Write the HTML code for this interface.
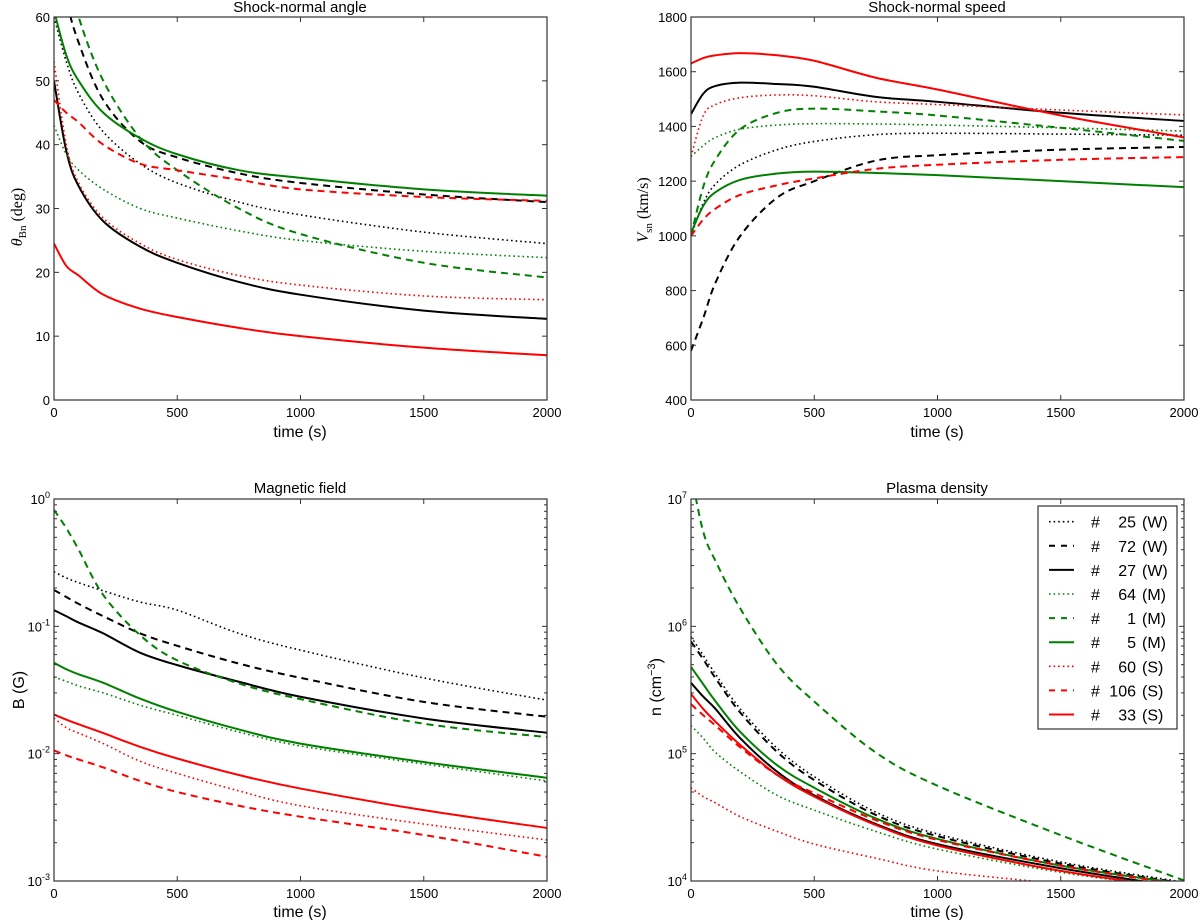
<!DOCTYPE html>
<html><head><meta charset="utf-8">
<style>
html,body{margin:0;padding:0;background:#fff;}
svg{display:block;font-family:"Liberation Sans","DejaVu Sans",sans-serif;}
</style></head>
<body>
<svg id="fig" width="1200" height="920" viewBox="0 0 1200 920" xmlns="http://www.w3.org/2000/svg">
<defs>
<clipPath id="c0"><rect x="54" y="17" width="493" height="383"/></clipPath>
<clipPath id="c1"><rect x="691" y="17" width="493" height="383"/></clipPath>
<clipPath id="c2"><rect x="54" y="499" width="493" height="382"/></clipPath>
<clipPath id="c3"><rect x="691" y="499" width="493" height="382"/></clipPath>
</defs>
<g id="root"></g>
<text x="300" y="12" font-size="15" text-anchor="middle">Shock-normal angle</text>
<text x="937" y="12" font-size="15" text-anchor="middle">Shock-normal speed</text>
<text x="300" y="493" font-size="15" text-anchor="middle">Magnetic field</text>
<text x="937" y="493" font-size="15" text-anchor="middle">Plasma density</text>
<text x="300" y="437" font-size="16" text-anchor="middle">time (s)</text>
<text x="937" y="437" font-size="16" text-anchor="middle">time (s)</text>
<text x="300" y="917" font-size="16" text-anchor="middle">time (s)</text>
<text x="937" y="917" font-size="16" text-anchor="middle">time (s)</text>
<text transform="translate(22,217) rotate(-90)" font-size="16" text-anchor="middle" font-family="Liberation Serif, serif"><tspan font-style="italic">θ</tspan><tspan font-size="11" dy="4">Bn</tspan><tspan dy="-4"> (deg)</tspan></text>
<text transform="translate(648,210) rotate(-90)" font-size="16" text-anchor="middle" font-family="Liberation Serif, serif"><tspan font-style="italic">V</tspan><tspan font-size="11" dy="4">sn</tspan><tspan dy="-4"> (km/s)</tspan></text>
<text transform="translate(24,690) rotate(-90)" font-size="16" text-anchor="middle">B (G)</text>
<text transform="translate(661,687) rotate(-90)" font-size="16" text-anchor="middle">n (cm<tspan font-size="11" dy="-6">−3</tspan><tspan dy="6">)</tspan></text>
</svg>
<script>
const times = [0,50,100,200,350,500,750,1000,1500,2000];
const xTicks = [0,500,1000,1500,2000];
const angleTicks = [0,10,20,30,40,50,60];
const speedTicks = [400,600,800,1000,1200,1400,1600,1800];
const fieldDecades = [-3,-2,-1,0];
const densityDecades = [4,5,6,7];
const seriesNames = ["# 25 (W)","# 72 (W)","# 27 (W)","# 64 (M)","#  1 (M)","#  5 (M)","# 60 (S)","#106 (S)","# 33 (S)"];
const seriesNums = ["25","72","27","64","1","5","60","106","33"];
const seriesCls = ["W","W","W","M","M","M","S","S","S"];
const angle25 = [60,53,48,42,37,34,31,29,26.3,24.5];
const angle72 = [75,63,56,47,40.5,38,35.5,34,32.2,31];
const angle27 = [50,39,33.5,28,24,21.5,18.5,16.5,14,12.7];
const angle64 = [43,38.5,36,33,30,28.5,26.5,25,23.3,22.3];
const angle1 = [80,68,60,50,41,36,30,26,21.5,19.2];
const angle5 = [61,54,50,45,41,38.5,36,34.8,33,32];
const angle60 = [53,40,34,28.5,24.5,22,19.5,18,16.3,15.7];
const angle106 = [47,45,43.5,40,37,36,34.5,33,31.8,31.2];
const angle33 = [24.5,21,19.5,16.5,14.3,13,11.3,10,8.2,7];
const speed25 = [1000,1120,1190,1260,1315,1345,1370,1375,1372,1368];
const speed72 = [580,700,830,1000,1140,1200,1275,1295,1315,1325];
const speed27 = [1445,1520,1548,1560,1555,1545,1508,1490,1450,1420];
const speed64 = [1290,1330,1360,1390,1405,1410,1409,1405,1395,1383];
const speed1 = [1000,1180,1280,1390,1450,1465,1455,1440,1395,1347];
const speed5 = [1010,1110,1160,1205,1228,1235,1230,1222,1200,1178];
const speed60 = [1290,1440,1480,1505,1515,1512,1490,1480,1460,1442];
const speed106 = [1000,1060,1100,1150,1185,1210,1245,1260,1278,1288];
const speed33 = [1630,1650,1660,1668,1660,1640,1578,1535,1440,1360];
const field25 = [0.268,0.24,0.22,0.19,0.155,0.134,0.088,0.065,0.0394,0.0263];
const field72 = [0.193,0.17,0.15,0.12,0.088,0.0703,0.051,0.0394,0.0255,0.0195];
const field27 = [0.134,0.12,0.107,0.088,0.062,0.0496,0.0367,0.028,0.0189,0.0146];
const field64 = [0.040,0.037,0.034,0.030,0.024,0.020,0.0148,0.0115,0.0083,0.0061];
const field1 = [0.82,0.59,0.40,0.176,0.085,0.054,0.0356,0.0268,0.0172,0.0135];
const field5 = [0.0517,0.046,0.042,0.036,0.027,0.0213,0.0155,0.012,0.0086,0.00646];
const field60 = [0.019,0.016,0.0145,0.012,0.0087,0.007,0.0051,0.0039,0.0028,0.0021];
const field106 = [0.0106,0.0097,0.009,0.0078,0.0061,0.005,0.0039,0.0032,0.0023,0.00155];
const field33 = [0.0203,0.0185,0.017,0.0145,0.0113,0.00916,0.0068,0.00532,0.0036,0.00261];
const dens25 = [8.3e5,5.9e5,4.2e5,2.24e5,1.1e5,6.6e4,3.47e4,2.34e4,1.41e4,9.8e3];
const dens72 = [7.6e5,5.5e5,3.9e5,2.1e5,1.03e5,6.2e4,3.3e4,2.25e4,1.37e4,9.6e3];
const dens27 = [3.6e5,2.8e5,2.24e5,1.32e5,7.2e4,4.7e4,2.8e4,1.95e4,1.26e4,8.9e3];
const dens64 = [1.66e5,1.32e5,1.02e5,7.2e4,4.7e4,3.6e4,2.45e4,1.78e4,1.17e4,8.7e3];
const dens1 = [1.58e7,5.5e6,3.24e6,1.38e6,5.0e5,2.57e5,1.02e5,5.6e4,2.29e4,1.01e4];
const dens5 = [4.8e5,3.5e5,2.57e5,1.48e5,8.1e4,5.4e4,3.1e4,2.14e4,1.32e4,9.5e3];
const dens60 = [5.4e4,4.6e4,4.1e4,3.2e4,2.45e4,1.95e4,1.51e4,1.2e4,9.5e3,7.6e3];
const dens106 = [2.45e5,2.0e5,1.66e5,1.12e5,6.8e4,4.9e4,3.0e4,2.1e4,1.32e4,9.3e3];
const dens33 = [2.95e5,2.24e5,1.78e5,1.17e5,6.8e4,4.6e4,2.75e4,1.9e4,1.2e4,8.7e3];

const NS = "http://www.w3.org/2000/svg";
const root = document.getElementById('root');
const COLORS = {black:"#000000", green:"#008000", red:"#ff0000"};
const styleOf = [
  {c:"black",d:"dot"},{c:"black",d:"dash"},{c:"black",d:"solid"},
  {c:"green",d:"dot"},{c:"green",d:"dash"},{c:"green",d:"solid"},
  {c:"red",d:"dot"},{c:"red",d:"dash"},{c:"red",d:"solid"}];
function mk(tag, attrs, parent){
  const e = document.createElementNS(NS, tag);
  for (const k in attrs) e.setAttribute(k, attrs[k]);
  (parent||root).appendChild(e);
  return e;
}
function applyDash(el, d){
  if (d==="dot"){ el.setAttribute('stroke-dasharray','1.6 3'); el.setAttribute('stroke-width','1.6'); }
  else if (d==="dash"){ el.setAttribute('stroke-dasharray','7 5'); el.setAttribute('stroke-width','2'); }
  else el.setAttribute('stroke-width','2');
}
function smoothPath(pts){
  let d = "M"+pts[0][0].toFixed(2)+","+pts[0][1].toFixed(2);
  for (let i=0;i<pts.length-1;i++){
    const p0 = pts[i>0?i-1:i], p1=pts[i], p2=pts[i+1], p3=pts[i+2<pts.length?i+2:i+1];
    const c1x = p1[0]+(p2[0]-p0[0])/6, c1y = p1[1]+(p2[1]-p0[1])/6;
    const c2x = p2[0]-(p3[0]-p1[0])/6, c2y = p2[1]-(p3[1]-p1[1])/6;
    d += " C"+c1x.toFixed(2)+","+c1y.toFixed(2)+" "+c2x.toFixed(2)+","+c2y.toFixed(2)+" "+p2[0].toFixed(2)+","+p2[1].toFixed(2);
  }
  return d;
}
function panel(cfg){
  const {x0,x1,y0,y1,log,ymin,ymax,series,clip,key} = cfg;
  const xs = t => x0 + (t-0)/(2000-0)*(x1-x0);
  const ys = v => {
    if (log){ const lv=Math.log10(v); return y1 - (lv-ymin)/(ymax-ymin)*(y1-y0); }
    return y1 - (v-ymin)/(ymax-ymin)*(y1-y0);
  };
  const g = mk('g',{'clip-path':'url(#'+clip+')'});
  
  
  series.forEach((arr, i)=>{
    const pts = arr.map((v,j)=>[xs(times[j]), ys(v)]);
    const p = mk('path',{d:smoothPath(pts), fill:'none', stroke:COLORS[styleOf[i].c], 'stroke-linecap':'butt'}, g);
    applyDash(p, styleOf[i].d);
    
    
  });
  const fr = mk('rect',{x:x0,y:y0,width:x1-x0,height:y1-y0,fill:'none',stroke:'#333','stroke-width':1.2});
  
  
  xTicks.forEach(t=>{
    const x = xs(t);
    mk('line',{x1:x,x2:x,y1:y1,y2:y1-5,stroke:'#333','stroke-width':1});
    mk('line',{x1:x,x2:x,y1:y0,y2:y0+5,stroke:'#333','stroke-width':1});
    const tx = mk('text',{x:x,y:y1+17,'font-size':13,'text-anchor':'middle'});
    tx.textContent = t;
    
    
  });
  if (!log){
    cfg.ticks.forEach(v=>{
      const y = ys(v);
      mk('line',{x1:x0,x2:x0+5,y1:y,y2:y,stroke:'#333','stroke-width':1});
      mk('line',{x1:x1,x2:x1-5,y1:y,y2:y,stroke:'#333','stroke-width':1});
      const tx = mk('text',{x:x0-4,y:y+5,'font-size':13,'text-anchor':'end'});
      tx.textContent = v;
      
      
    });
  } else {
    cfg.ticks.forEach((e,k)=>{
      const y = ys(Math.pow(10,e));
      mk('line',{x1:x0,x2:x0+5,y1:y,y2:y,stroke:'#333','stroke-width':1});
      mk('line',{x1:x1,x2:x1-5,y1:y,y2:y,stroke:'#333','stroke-width':1});
      const tx = mk('text',{x:x0-4,y:y+5,'font-size':13,'text-anchor':'end'});
      
      
      const a = mk('tspan',{},tx); a.textContent='10';
      const b = mk('tspan',{'font-size':9,dy:-6},tx); b.textContent=String(e);
      if (k<cfg.ticks.length-1){
        for (let m=2;m<10;m++){
          const ym = ys(m*Math.pow(10,e));
          mk('line',{x1:x0,x2:x0+3,y1:ym,y2:ym,stroke:'#333','stroke-width':1});
          mk('line',{x1:x1,x2:x1-3,y1:ym,y2:ym,stroke:'#333','stroke-width':1});
        }
      }
    });
  }
}
panel({key:'angle',x0:54,x1:547,y0:17,y1:400,log:false,ymin:0,ymax:60,ticks:angleTicks,clip:'c0',
  series:[angle25,angle72,angle27,angle64,angle1,angle5,angle60,angle106,angle33]});
panel({key:'speed',x0:691,x1:1184,y0:17,y1:400,log:false,ymin:400,ymax:1800,ticks:speedTicks,clip:'c1',
  series:[speed25,speed72,speed27,speed64,speed1,speed5,speed60,speed106,speed33]});
panel({key:'field',x0:54,x1:547,y0:499,y1:881,log:true,ymin:-3,ymax:0,ticks:fieldDecades,clip:'c2',
  series:[field25,field72,field27,field64,field1,field5,field60,field106,field33]});
panel({key:'density',x0:691,x1:1184,y0:499,y1:881,log:true,ymin:4,ymax:7,ticks:densityDecades,clip:'c3',
  series:[dens25,dens72,dens27,dens64,dens1,dens5,dens60,dens106,dens33]});

const lg = mk('g',{});


const lbox = mk('rect',{x:1038,y:506,width:139,height:223,fill:'#fff',stroke:'#333','stroke-width':1.2},lg);


seriesNames.forEach((nm,i)=>{
  const y = 521.7 + i*24.1;
  const e = mk('g',{},lg);
  
  
  const ln = mk('line',{x1:1049,x2:1074,y1:y,y2:y,stroke:COLORS[styleOf[i].c]},e);
  applyDash(ln, styleOf[i].d);
  if (styleOf[i].d==="dash") ln.setAttribute('stroke-dasharray','6 6');
  const h = mk('text',{x:1091,y:y+6,'font-size':16},e); h.textContent='#';
  const n = mk('text',{x:1136,y:y+6,'font-size':16,'text-anchor':'end'},e); n.textContent=seriesNums[i];
  const c = mk('text',{x:1142,y:y+6,'font-size':16},e); c.textContent='('+seriesCls[i]+')';
});
</script>
</body></html>
